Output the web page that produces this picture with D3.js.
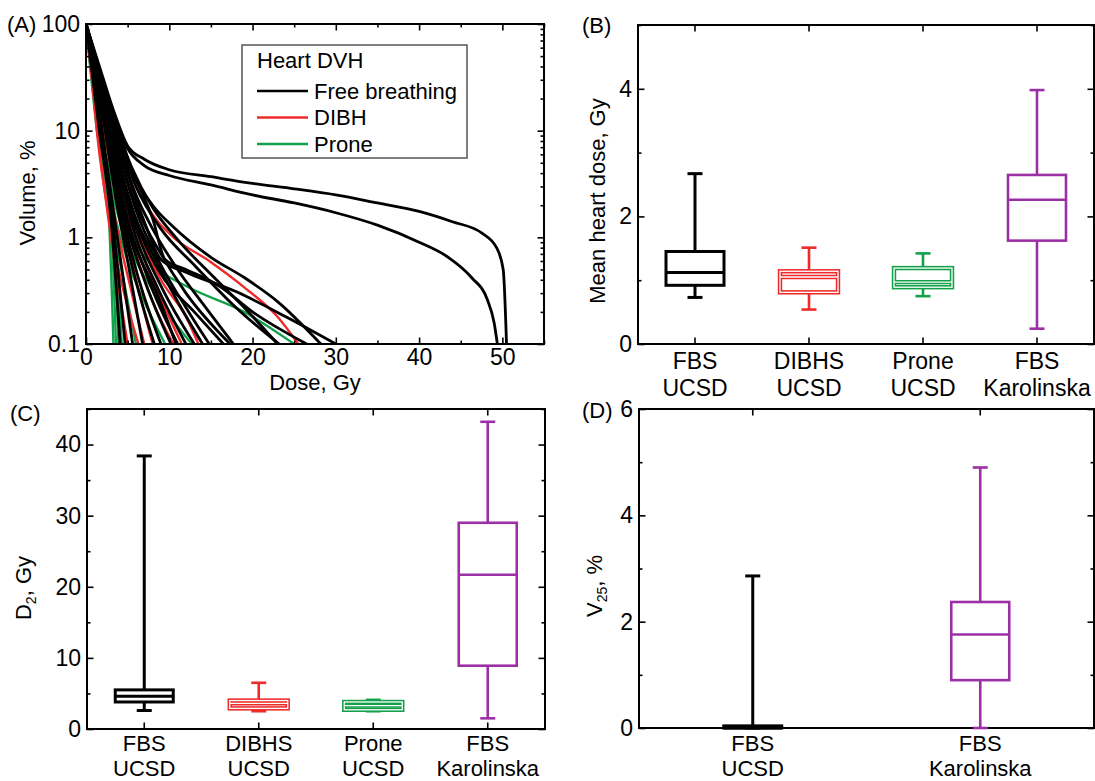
<!DOCTYPE html>
<html>
<head>
<meta charset="utf-8">
<script src="https://cdn.jsdelivr.net/npm/d3@7"></script>
<style>
  body { margin: 0; background: #fff; }
  svg text { font-family: "Liberation Sans", Arial, sans-serif; fill: #000; }
</style>
</head>
<body>
<svg id="fig" width="1095" height="781"></svg>
<script>
// ---- panel A: heart DVH curves, [dose Gy, volume %] ----
const doseTicks = [0, 10, 20, 30, 40, 50];
const doseMinor = [5, 15, 25, 35, 45, 55];
const volTicks = [0.1, 1, 10, 100];

const dvhFree = [
  [[0,100],[2,32],[3.5,14],[5,7.2],[7,5.4],[10,4.3],[15,3.7],[20,3.2],[25,2.85],[30,2.5],[35,2.1],[40,1.75],[44,1.4],[47.5,1.1],[49.3,0.8],[50.1,0.5],[50.5,0.1]],
  [[0,100],[2,30],[3.5,13],[5,6.8],[7,4.7],[10,3.8],[15,3.1],[20,2.5],[25,2.1],[30,1.7],[35,1.3],[40,0.9],[43.5,0.65],[46.3,0.42],[48.2,0.26],[49,0.16],[49.4,0.1]],
  [[0,100],[2,28],[3.5,10],[5,4],[7,1.4],[9,0.62],[12,0.47],[18,0.31],[24,0.18],[30,0.1]],
  [[0,100],[2,30],[4,10],[5.5,4.2],[8,2.0],[10.5,1.25],[15,0.65],[19,0.42],[23,0.25],[28.2,0.1]],
  [[0,100],[2,28],[4,9],[5.5,4.5],[8,1.9],[11,0.95],[15,0.45],[19,0.22],[23,0.1]],
  [[0,100],[2,26],[4,8],[6,3],[9,1.2],[13,0.55],[18,0.22],[23.2,0.1]],
  [[0,100],[2,25],[4,7],[6,2.5],[8,1.2],[11,0.5],[14,0.24],[17.7,0.1]],
  [[0,100],[2,24],[4,6],[6,2],[9,0.7],[12,0.3],[17.3,0.1]],
  [[0,100],[2,22],[4,6],[6,1.8],[9,0.55],[12,0.22],[14.8,0.1]],
  [[0,100],[2,22],[4,5],[6,1.5],[8,0.7],[11,0.25],[14,0.1]],
  [[0,100],[2,20],[4,4.5],[6,1.2],[9,0.35],[13,0.1]],
  [[0,100],[2,20],[4,4],[6,1],[8.5,0.35],[12,0.1]],
  [[0,100],[2,18],[3.5,5],[5,1.5],[7.5,0.4],[11,0.1]],
  [[0,100],[2,18],[3.5,4],[5,1.2],[7,0.4],[10.2,0.1]],
  [[0,100],[2,16],[3.5,3.5],[5,1],[9,0.1]],
  [[0,100],[2,15],[3.5,3],[5,0.8],[8.2,0.1]],
  [[0,100],[2,14],[3.5,2.5],[5,0.6],[6.8,0.1]],
  [[0,100],[1.8,12],[3.2,2],[4.5,0.4],[5.6,0.1]],
  [[0,100],[1.8,11],[3,2],[4.7,0.1]],
  [[0,100],[1.6,10],[3,1.5],[4.1,0.1]],
  [[0,100],[2,26],[4,8.5],[6,3.5],[8,1.5],[9.5,0.62],[12,0.5],[16,0.35],[20,0.2],[26.5,0.1]],
  [[0,100],[1.5,30],[3,9],[4.5,3],[6.5,1.1],[9,0.45],[13,0.2],[16.5,0.1]],
  [[0,100],[1.3,28],[2.8,7],[4.2,2.2],[6,0.8],[8.5,0.3],[10.8,0.1]]
];

const dvhDibh = [
  [[0,100],[2,22],[4,7],[5,4.5],[6.5,2.5],[8.5,1.45],[10.5,1.0],[14.8,0.6],[19,0.34],[23,0.18],[25.5,0.1]],
  [[0,100],[2,15],[4,3],[6,1],[8,0.4],[11.5,0.1]],
  [[0,100],[2,14],[4,2.5],[6,0.7],[8,0.25],[10.5,0.1]],
  [[0,100],[2,12],[4,1.8],[6,0.4],[8,0.1]],
  [[0,100],[1.8,10],[3.5,1.5],[5.5,0.3],[7,0.1]],
  [[0,100],[0.6,40],[1.3,10],[3,1.2],[6.3,0.1]],
  [[0,100],[1.5,8],[3,1],[5,0.1]],
  [[0,100],[2,16],[4,4],[6,1.3],[9,0.4],[12,0.18],[13.5,0.1]]
];

const dvhProne = [
  [[0,100],[1.8,14],[3.2,4],[4.5,1.6],[6.5,0.75],[9,0.48],[12.3,0.34],[19,0.2],[25,0.1]],
  [[0,100],[1.8,10],[3.2,2.5],[5,0.9],[8,0.32],[12.7,0.1]],
  [[0,100],[1.8,9],[3.2,2],[5,0.6],[7,0.25],[9.5,0.1]],
  [[0,100],[1.6,8],[3,1.5],[4.5,0.4],[6,0.1]],
  [[0,100],[1.4,9],[2.6,2.5],[3.3,0.1]],
  [[0,100],[1.5,9],[2.8,2.8],[3.6,0.1]],
  [[0,100],[1.6,10],[3,3],[3.9,0.1]],
  [[0,100],[1.7,10],[3.1,2.5],[4.3,0.1]]
];

const legendTitle = "Heart DVH";
const legendNames = ["Free breathing", "DIBH", "Prone"];
const dvhColors = ["#000000", "#ee2b2b", "#12a14a"];

// ---- box panels: [whisker low, q1, median, q3, whisker high] ----
const groups4 = [["FBS", "UCSD"], ["DIBHS", "UCSD"], ["Prone", "UCSD"], ["FBS", "Karolinska"]];
const groups2 = [["FBS", "UCSD"], ["FBS", "Karolinska"]];
const colors4 = ["#000000", "#ee2b2b", "#12a14a", "#9b30a6"];
const colors2 = ["#000000", "#9b30a6"];

const meanDose = [
  [0.73, 0.92, 1.12, 1.45, 2.67],
  [0.54, 0.81, 1.05, 1.14, 1.51],
  [0.75, 0.89, 0.97, 1.19, 1.42],
  [0.24, 1.62, 2.26, 2.65, 3.98]
];
const d2 = [
  [2.6, 3.8, 4.6, 5.5, 38.4],
  [2.5, 2.9, 3.6, 4.0, 6.5],
  [2.5, 2.7, 3.3, 3.8, 4.1],
  [1.5, 8.9, 21.7, 29.0, 43.2]
];
const v25 = [
  [0, 0, 0, 0.04, 2.86],
  [0, 0.9, 1.76, 2.37, 4.9]
];

const meanTicks = [0, 2, 4], meanMinor = [1, 3, 5];
const d2Ticks = [0, 10, 20, 30, 40], d2Minor = [5, 15, 25, 35, 45];
const v25Ticks = [0, 2, 4, 6], v25Minor = [1, 3, 5];

const svg = d3.select("#fig");
const FS = 23;

function styleAxis(sel) {
  sel.select(".domain").remove();
  sel.selectAll("line").attr("stroke", "#000").attr("stroke-width", 1.6);
  sel.attr("font-size", FS).attr("font-family", null);
}

// frame with inward ticks mirrored on all four sides
function frame(g, x, y, o) {
  const [x0, x1] = x.range();
  const [y0, y1] = y.range();
  const major = 6.5, minor = 3.5;
  const bot = d3.axisBottom(x).tickSize(-major).tickPadding(5);
  if (o.xTicks) bot.tickValues(o.xTicks);
  bot.tickFormat(o.xFormat || (() => ""));
  g.append("g").attr("transform", `translate(0,${y0})`).call(bot).call(styleAxis);
  const top = d3.axisTop(x).tickSize(-major).tickFormat("");
  if (o.xTicks) top.tickValues(o.xTicks);
  g.append("g").attr("transform", `translate(0,${y1})`).call(top).call(styleAxis);
  if (o.xMinor) {
    g.append("g").attr("transform", `translate(0,${y0})`)
      .call(d3.axisBottom(x).tickValues(o.xMinor).tickSize(-minor).tickFormat("")).call(styleAxis);
    g.append("g").attr("transform", `translate(0,${y1})`)
      .call(d3.axisTop(x).tickValues(o.xMinor).tickSize(-minor).tickFormat("")).call(styleAxis);
  }
  g.append("g").attr("transform", `translate(${x0},0)`)
    .call(d3.axisLeft(y).tickValues(o.yTicks).tickSize(-major).tickPadding(6).tickFormat(o.yFormat || d3.format("~g")))
    .call(styleAxis);
  g.append("g").attr("transform", `translate(${x1},0)`)
    .call(d3.axisRight(y).tickValues(o.yTicks).tickSize(-major).tickFormat("")).call(styleAxis);
  g.append("g").attr("transform", `translate(${x0},0)`)
    .call(d3.axisLeft(y).tickValues(o.yMinor).tickSize(-minor).tickFormat("")).call(styleAxis);
  g.append("g").attr("transform", `translate(${x1},0)`)
    .call(d3.axisRight(y).tickValues(o.yMinor).tickSize(-minor).tickFormat("")).call(styleAxis);
  g.append("rect")
    .attr("x", x0).attr("y", y1).attr("width", x1 - x0).attr("height", y0 - y1)
    .attr("fill", "none").attr("stroke", "#000").attr("stroke-width", 2);
}

function panelLabel(txt, px, py) {
  svg.append("text").attr("x", px).attr("y", py).attr("font-size", 22).text(txt);
}

function yTitle(cx, cy, parts) {
  const t = svg.append("text")
    .attr("transform", `translate(${cx},${cy}) rotate(-90)`)
    .attr("text-anchor", "middle").attr("dominant-baseline", "central")
    .attr("font-size", 22);
  parts.forEach(p => {
    const s = t.append("tspan").text(p.t);
    if (p.sub) s.attr("font-size", 14).attr("baseline-shift", "sub");
  });
}

// ---------------- Panel A ----------------
{
  const x = d3.scaleLinear().domain([0, 55]).range([86, 544]);
  const y = d3.scaleLog().domain([0.1, 100]).range([344, 24]);
  const g = svg.append("g");
  const minorVol = y.ticks().filter(v => !volTicks.some(t => Math.abs(t - v) < 1e-9));

  svg.append("defs").append("clipPath").attr("id", "clipA")
    .append("rect").attr("x", 86).attr("y", 24).attr("width", 458).attr("height", 320);

  const line = d3.line().x(d => x(d[0])).y(d => y(d[1])).curve(d3.curveMonotoneX);
  const curves = g.append("g").attr("clip-path", "url(#clipA)").attr("fill", "none");
  curves.selectAll(".prone").data(dvhProne).join("path").attr("class", "prone")
    .attr("d", line).attr("stroke", dvhColors[2]).attr("stroke-width", 2.4);
  curves.selectAll(".dibh").data(dvhDibh).join("path").attr("class", "dibh")
    .attr("d", line).attr("stroke", dvhColors[1]).attr("stroke-width", 2.4);
  curves.selectAll(".free").data(dvhFree).join("path").attr("class", "free")
    .attr("d", line).attr("stroke", dvhColors[0]).attr("stroke-width", 2.8);

  frame(g, x, y, {
    xTicks: doseTicks, xMinor: doseMinor, xFormat: d3.format("d"),
    yTicks: volTicks, yMinor: minorVol, yFormat: d3.format("~g")
  });

  // legend
  const lg = g.append("g");
  lg.append("rect").attr("x", 242).attr("y", 45).attr("width", 225).attr("height", 113)
    .attr("fill", "#fff").attr("stroke", "#555").attr("stroke-width", 1.5);
  lg.append("text").attr("x", 257).attr("y", 68).attr("font-size", 22).text(legendTitle);
  legendNames.forEach((n, i) => {
    const ly = 91 + i * 26.5;
    lg.append("line").attr("x1", 257).attr("x2", 308).attr("y1", ly).attr("y2", ly)
      .attr("stroke", dvhColors[i]).attr("stroke-width", 2.4);
    lg.append("text").attr("x", 314).attr("y", ly).attr("dy", "0.36em").attr("font-size", 22).text(n);
  });

  svg.append("text").attr("x", 315).attr("y", 390).attr("text-anchor", "middle")
    .attr("font-size", 22).text("Dose, Gy");
  yTitle(27, 193, [{t: "Volume, %"}]);
  panelLabel("(A)", 7, 32);
}

// ---------------- box plot helper ----------------
function boxPanel(stats, groups, colors, box, yDomain, yTicks, yMinor, hollow, gap, fs) {
  const keys = groups.map(d => d.join(" "));
  const x = d3.scaleBand().domain(keys).range([box.l, box.r]);
  const y = d3.scaleLinear().domain(yDomain).range([box.b, box.t]);
  const g = svg.append("g");
  frame(g, x, y, {yTicks: yTicks, yMinor: yMinor, yFormat: d3.format("d")});

  const bw = 58, cw = 15;
  stats.forEach((s, i) => {
    const cx = x(keys[i]) + x.bandwidth() / 2;
    const col = colors[i];
    const sw = col === "#000000" ? 3 : 2.6;
    const w = g.append("g").attr("stroke", col).attr("stroke-width", sw).attr("fill", "none");
    w.append("line").attr("x1", cx).attr("x2", cx).attr("y1", y(s[0])).attr("y2", y(s[1]));
    w.append("line").attr("x1", cx).attr("x2", cx).attr("y1", y(s[3])).attr("y2", y(s[4]));
    [s[0], s[4]].forEach(v => w.append("line")
      .attr("x1", cx - cw / 2).attr("x2", cx + cw / 2).attr("y1", y(v)).attr("y2", y(v)));

    const passes = hollow && hollow.includes(i)
      ? [{c: col, w: 4.4}, {c: "#fff", w: 1.3}]
      : [{c: col, w: sw}];
    passes.forEach(p => {
      const b = g.append("g").attr("stroke", p.c).attr("stroke-width", p.w).attr("fill", "none");
      b.append("rect").attr("x", cx - bw / 2).attr("width", bw)
        .attr("y", y(s[3])).attr("height", Math.max(0, y(s[1]) - y(s[3])));
      b.append("line").attr("x1", cx - bw / 2).attr("x2", cx + bw / 2)
        .attr("y1", y(s[2])).attr("y2", y(s[2]));
    });

    const t = g.append("text").attr("text-anchor", "middle").attr("font-size", fs);
    t.append("tspan").attr("x", cx).attr("y", box.b + gap[0]).text(groups[i][0]);
    t.append("tspan").attr("x", cx).attr("y", box.b + gap[1]).text(groups[i][1]);
  });
}

// ---------------- Panel B ----------------
boxPanel(meanDose, groups4, colors4, {l: 638, r: 1094, t: 25, b: 344}, [0, 5], meanTicks, meanMinor, [1, 2], [25, 52], 23);
yTitle(597, 201, [{t: "Mean heart dose, Gy"}]);
panelLabel("(B)", 582, 33);

// ---------------- Panel C ----------------
boxPanel(d2, groups4, colors4, {l: 87, r: 545, t: 409, b: 729}, [0, 45], d2Ticks, d2Minor, [1, 2], [22, 47], 22);
yTitle(23, 588, [{t: "D"}, {t: "2", sub: true}, {t: ", Gy"}]);
panelLabel("(C)", 10, 421);

// ---------------- Panel D ----------------
boxPanel(v25, groups2, colors2, {l: 639, r: 1094, t: 409, b: 728}, [0, 6], v25Ticks, v25Minor, null, [23, 48], 22);
yTitle(594, 586, [{t: "V"}, {t: "25", sub: true}, {t: ", %"}]);
panelLabel("(D)", 582, 418);
</script>
</body>
</html>
